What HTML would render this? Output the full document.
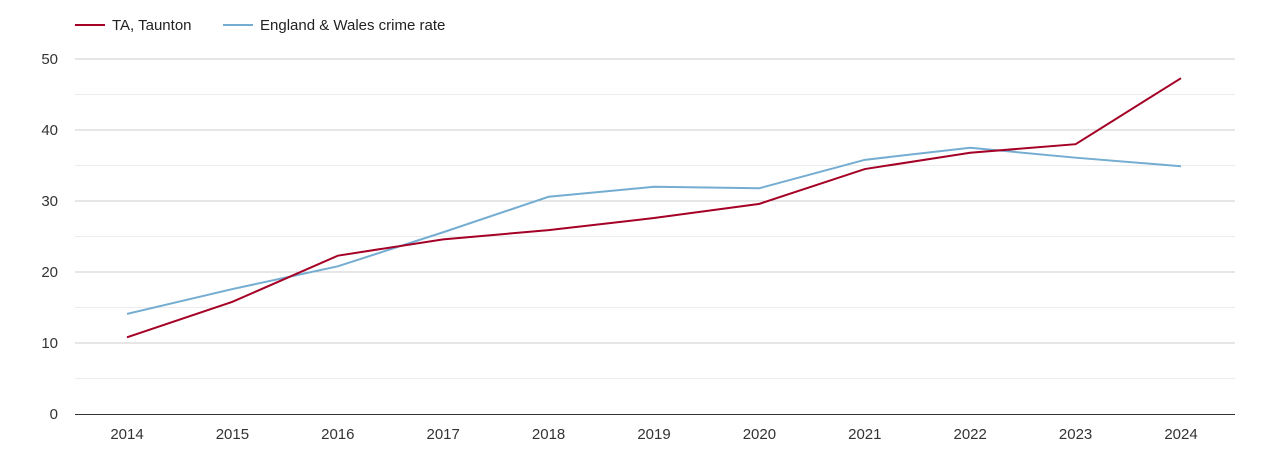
<!DOCTYPE html>
<html><head><meta charset="utf-8"><style>
body{margin:0;background:#fff;font-family:"Liberation Sans",sans-serif;}
svg text{font-family:"Liberation Sans",sans-serif;}
</style></head><body>
<svg id="chart" width="1270" height="450">
<g>
<line x1="75" y1="25" x2="105" y2="25" stroke="#a50026" stroke-width="2"/>
<text x="112" y="30" font-size="15" fill="#222">TA, Taunton</text>
<line x1="223" y1="25" x2="253" y2="25" stroke="#74add1" stroke-width="2"/>
<text x="260" y="30" font-size="15" fill="#222">England &amp; Wales crime rate</text>
</g>
<g id="grid"></g><g id="axes"></g><g id="series"></g>
</svg>
<script>
const years=[2014,2015,2016,2017,2018,2019,2020,2021,2022,2023,2024];
const taunton=[10.8,15.8,22.3,24.6,25.9,27.6,29.6,34.5,36.8,38.0,47.3];
const englandWales=[14.1,17.6,20.8,25.6,30.6,32.0,31.8,35.8,37.5,36.1,34.9];
const yTicks=[0,10,20,30,40,50];
const NS='http://www.w3.org/2000/svg';
const x=i=>127+i*(1181-127)/(years.length-1);
const y=v=>414-v*(414-59)/50;
function mk(tag,attrs,parent){const e=document.createElementNS(NS,tag);for(const k in attrs)e.setAttribute(k,attrs[k]);parent.appendChild(e);return e;}
const grid=document.getElementById('grid'),axes=document.getElementById('axes'),series=document.getElementById('series');
for(let v=5;v<=50;v+=5){
 const l=mk('line',{x1:75,x2:1235,y1:y(v),y2:y(v),stroke:v%10?'#ececec':'#cccccc','stroke-width':1},grid);
 
 
}
yTicks.forEach(v=>{
 const t=mk('text',{x:58,y:y(v)+5,'font-size':15,fill:'#333','text-anchor':'end'},axes);t.textContent=v;
 
 
});
const ax=mk('line',{x1:75,x2:1235,y1:414.5,y2:414.5,stroke:'#333','stroke-width':1},axes);


years.forEach((yr,i)=>{
 const t=mk('text',{x:x(i),y:439,'font-size':15,fill:'#333','text-anchor':'middle'},axes);t.textContent=yr;
 
 
});
function line(vals,color,name){
 const p=mk('polyline',{points:vals.map((v,i)=>x(i)+','+y(v)).join(' '),fill:'none',stroke:color,'stroke-width':2},series);
 
 
}
line(englandWales,'#74add1','england-wales-line');
line(taunton,'#a50026','taunton-line');
</script>
</body></html>
